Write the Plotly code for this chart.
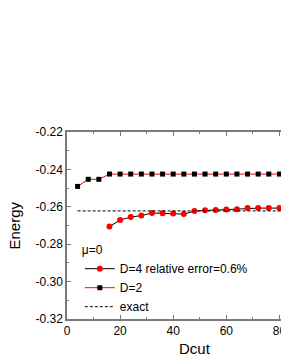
import plotly.graph_objects as go

# Data
dcut_d2 = [4, 8, 12, 16, 20, 24, 28, 32, 36, 40, 44, 48, 52, 56, 60, 64, 68, 72, 76, 80]
energy_d2 = [-0.2491, -0.2453, -0.2453, -0.2425, -0.2425, -0.2425, -0.2425, -0.2425, -0.2425, -0.2425,
             -0.2425, -0.2425, -0.2425, -0.2425, -0.2425, -0.2425, -0.2425, -0.2425, -0.2425, -0.2425]
dcut_d4 = [16, 20, 24, 28, 32, 36, 40, 44, 48, 52, 56, 60, 64, 68, 72, 76, 80]
energy_d4 = [-0.2706, -0.2671, -0.2655, -0.2647, -0.2633, -0.2635, -0.2636, -0.2639, -0.2623, -0.2619,
             -0.2617, -0.2615, -0.2613, -0.2607, -0.2607, -0.2607, -0.2607]
exact_x = [4, 84]
exact_y = [-0.2622, -0.2622]

y_ticks = [-0.32, -0.30, -0.28, -0.26, -0.24, -0.22]
y_tick_labels = ["-0.32", "-0.30", "-0.28", "-0.26", "-0.24", "-0.22"]
x_ticks = [0, 20, 40, 60, 80]
x_tick_labels = ["0", "20", "40", "60", "80"]

FONT = "Liberation Sans, Arial, sans-serif"
AXIS_COLOR = "#7a7a7a"

fig = go.Figure()
fig.add_trace(go.Scatter(
    x=dcut_d4, y=energy_d4, mode="lines+markers", name="D=4 relative error=0.6%",
    line=dict(color="black", width=1),
    marker=dict(symbol="circle", size=6, color="red"),
    cliponaxis=False,
))
fig.add_trace(go.Scatter(
    x=dcut_d2, y=energy_d2, mode="lines+markers", name="D=2",
    line=dict(color="red", width=1),
    marker=dict(symbol="square", size=5, color="black"),
    cliponaxis=False,
))
fig.add_trace(go.Scatter(
    x=exact_x, y=exact_y, mode="lines", name="exact",
    line=dict(color="black", width=1, dash="3px,2px"),
))

fig.update_layout(
    width=281, height=363,
    margin=dict(l=67, r=0, t=132, b=44, autoexpand=False),
    paper_bgcolor="white", plot_bgcolor="white",
    font=dict(family=FONT, size=12, color="black"),
    showlegend=True,
    legend=dict(
        x=0.06, y=0.43, xanchor="left", yanchor="top",
        bgcolor="rgba(0,0,0,0)", borderwidth=0,
        font=dict(size=12, family=FONT),
        title=dict(text="μ=0", font=dict(size=12, family=FONT)),
        itemwidth=30, tracegroupgap=0,
    ),
    xaxis=dict(
        range=[0, 80.6], showgrid=False, zeroline=False, automargin=False,
        showline=True, linecolor=AXIS_COLOR, linewidth=1.5, mirror="ticks",
        ticks="inside", ticklen=4, tickcolor=AXIS_COLOR, tickwidth=1,
        tickvals=x_ticks, ticktext=x_tick_labels, ticklabeloverflow="allow",
        tickfont=dict(size=12, family=FONT, color="black"),
        minor=dict(ticks="inside", ticklen=2, dtick=10, tickcolor=AXIS_COLOR, showgrid=False),
    ),
    yaxis=dict(
        range=[-0.32, -0.22], showgrid=False, zeroline=False, automargin=False,
        showline=True, linecolor=AXIS_COLOR, linewidth=1.5, mirror=False,
        ticks="inside", ticklen=4, tickcolor=AXIS_COLOR, tickwidth=1,
        tickvals=y_ticks, ticktext=y_tick_labels, ticklabeloverflow="allow",
        tickfont=dict(size=12, family=FONT, color="black"),
        minor=dict(ticks="inside", ticklen=2, dtick=0.01, tickcolor=AXIS_COLOR, showgrid=False),
    ),
    annotations=[
        dict(
            text="Dcut", xref="paper", yref="paper", x=0.598, y=-0.16,
            xanchor="center", yanchor="middle", showarrow=False,
            font=dict(size=15, family=FONT, color="black"),
        ),
        dict(
            text="Energy", xref="paper", yref="paper", x=-0.243, y=0.5,
            xanchor="center", yanchor="middle", showarrow=False, textangle=-90,
            font=dict(size=15, family=FONT, color="black"),
        ),
    ],
)

page_css = (
    "document.body.style.margin='0';"
    "document.body.style.overflow='hidden';"
    "document.documentElement.style.overflow='hidden';"
)

fig.write_html("out.html", post_script=page_css, config={"displayModeBar": False})
